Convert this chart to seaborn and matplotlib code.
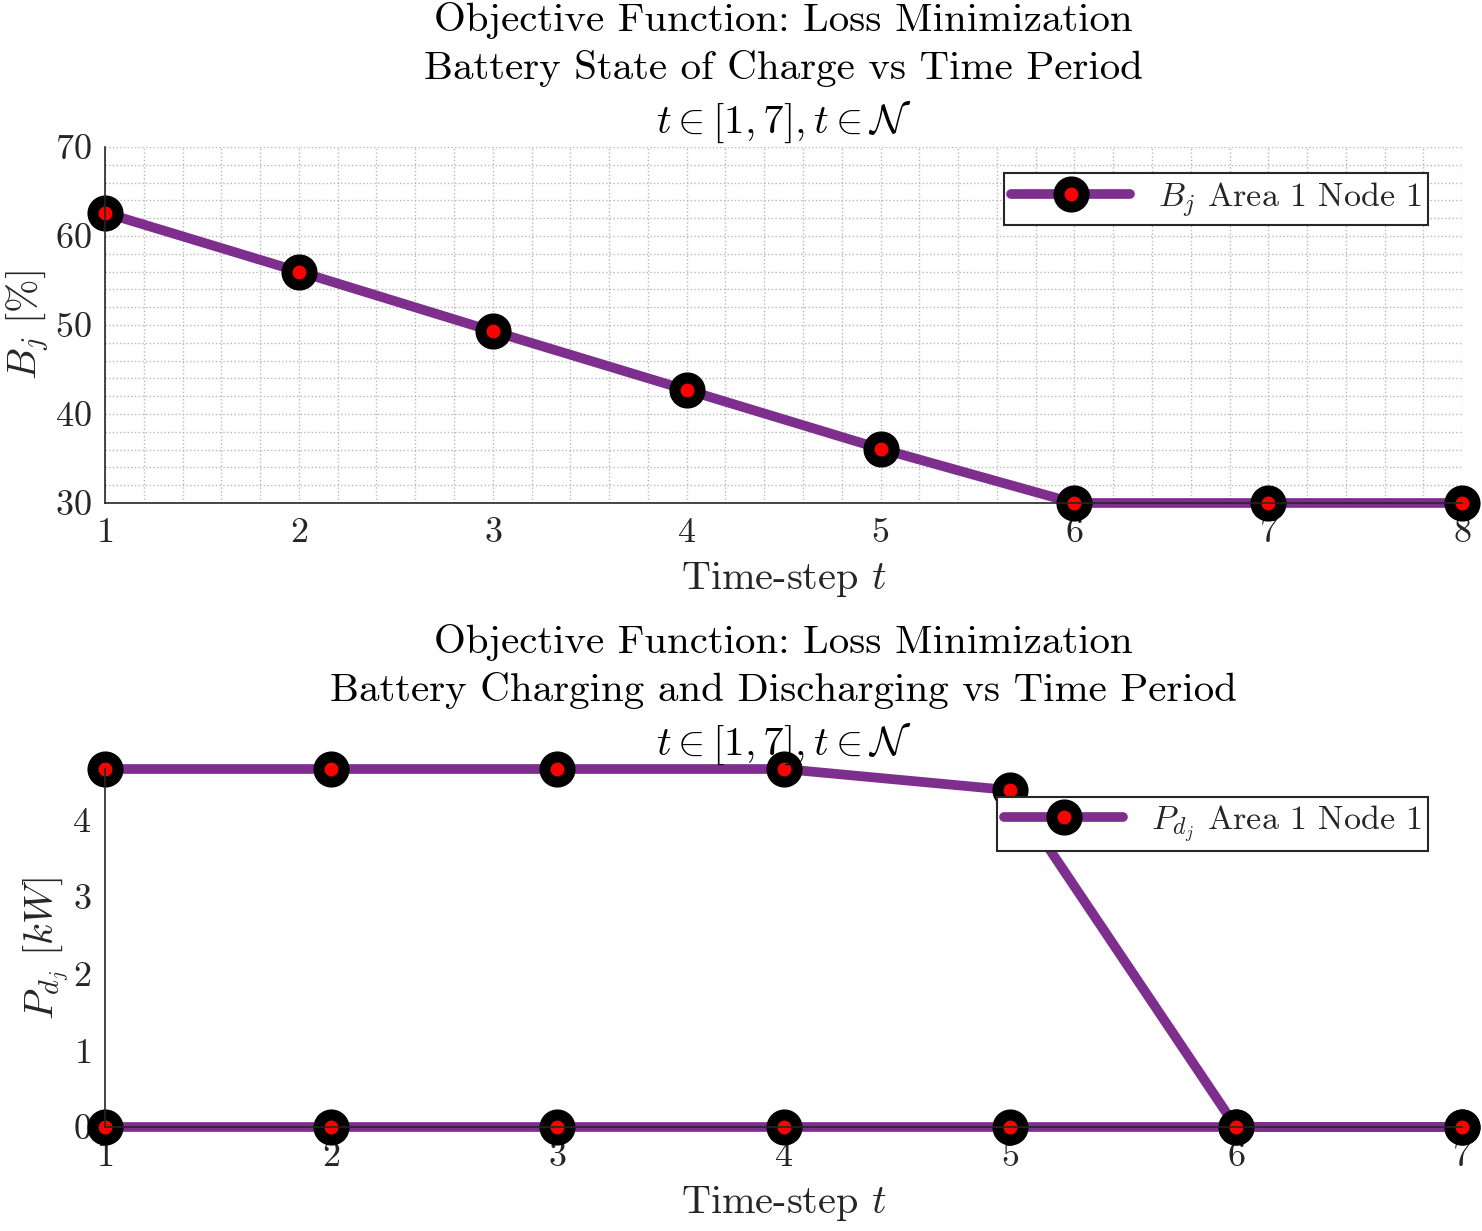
import matplotlib
matplotlib.use("Agg")
import matplotlib.pyplot as plt
import seaborn as sns
from matplotlib.ticker import MultipleLocator

# data
t_soc = [1, 2, 3, 4, 5, 6, 7, 8]
soc = [62.6, 56.0, 49.3, 42.7, 36.1, 30.0, 30.0, 30.0]

t_pow = [1, 2, 3, 4, 5, 6, 7]
p_discharge = [4.665, 4.665, 4.665, 4.665, 4.39, 0.0, 0.0]
p_charge = [0.0, 0.0, 0.0, 0.0, 0.0, 0.0, 0.0]

sns.set_style("white")
plt.rcParams["font.family"] = "serif"
plt.rcParams["font.serif"] = ["cmr10"]
plt.rcParams["mathtext.fontset"] = "cm"
plt.rcParams["axes.formatter.use_mathtext"] = True

PURPLE = "#7E2F8E"
DARK = "#262626"
TICK_FS = 26
LABEL_FS = 29
TITLE_FS = 29.5
LEG_FS = 24.5

line_kw = dict(color=PURPLE, linewidth=7, marker="o", markersize=18,
               markerfacecolor="red", markeredgecolor="black",
               markeredgewidth=8, clip_on=False)


def style_axes(ax):
    for side in ["top", "right"]:
        ax.spines[side].set_visible(False)
    for side in ["left", "bottom"]:
        ax.spines[side].set_color(DARK)
        ax.spines[side].set_linewidth(1.2)
    ax.tick_params(direction="in", length=10, width=1.2, colors=DARK,
                   labelsize=TICK_FS, pad=10)


def add_legend(ax, anchor):
    leg = ax.legend(loc="upper right", bbox_to_anchor=anchor,
                    fontsize=LEG_FS, frameon=True, fancybox=False,
                    framealpha=1, handlelength=3.5, borderpad=0.2,
                    borderaxespad=0)
    leg.get_frame().set_edgecolor(DARK)
    leg.get_frame().set_linewidth(1.5)
    return leg


fig = plt.figure(figsize=(14.82, 12.31), dpi=100)

# top: state of charge
ax1 = fig.add_axes([0.0709, 0.5914, 0.9157, 0.2892])
sns.lineplot(x=t_soc, y=soc, ax=ax1, label=r"$B_j$ Area 1 Node 1", **line_kw)
ax1.set_xlim(1, 8)
ax1.set_ylim(30, 70)
ax1.set_xticks(t_soc)
ax1.yaxis.set_major_locator(MultipleLocator(10))
ax1.xaxis.set_minor_locator(MultipleLocator(0.2))
ax1.yaxis.set_minor_locator(MultipleLocator(2))
ax1.grid(True, which="both", linestyle=":", color="#b8b8b8", linewidth=1.0)
ax1.tick_params(which="minor", length=0)
ax1.set_axisbelow(True)
style_axes(ax1)
ax1.set_title("Objective Function: Loss Minimization\n"
              "Battery State of Charge vs Time Period\n"
              r"$t \in [1,7], t \in \mathcal{N}$",
              fontsize=TITLE_FS, color="black", pad=10, linespacing=1.38)
ax1.set_xlabel(r"Time-step $t$", fontsize=LABEL_FS, color=DARK, labelpad=8)
ax1.set_ylabel(r"$B_j\ [\%]$", fontsize=LABEL_FS, color=DARK, labelpad=2)
add_legend(ax1, (0.975, 0.927))

# bottom: charging / discharging power
ax2 = fig.add_axes([0.0709, 0.0845, 0.9157, 0.2908])
sns.lineplot(x=t_pow, y=p_discharge, ax=ax2, label=r"$P_{d_j}$ Area 1 Node 1",
             **line_kw)
sns.lineplot(x=t_pow, y=p_charge, ax=ax2, **line_kw)
ax2.set_xlim(1, 7)
ax2.set_ylim(0, max(p_discharge))
ax2.set_xticks(t_pow)
ax2.set_yticks([0, 1, 2, 3, 4])
style_axes(ax2)
ax2.set_title("Objective Function: Loss Minimization\n"
              "Battery Charging and Discharging vs Time Period\n"
              r"$t \in [1,7], t \in \mathcal{N}$",
              fontsize=TITLE_FS, color="black", pad=10, linespacing=1.38)
ax2.set_xlabel(r"Time-step $t$", fontsize=LABEL_FS, color=DARK, labelpad=8)
ax2.set_ylabel(r"$P_{d_j}\ [kW]$", fontsize=LABEL_FS, color=DARK, labelpad=1)
add_legend(ax2, (0.975, 0.922))

fig.savefig("out.png", dpi=100, facecolor="white")
